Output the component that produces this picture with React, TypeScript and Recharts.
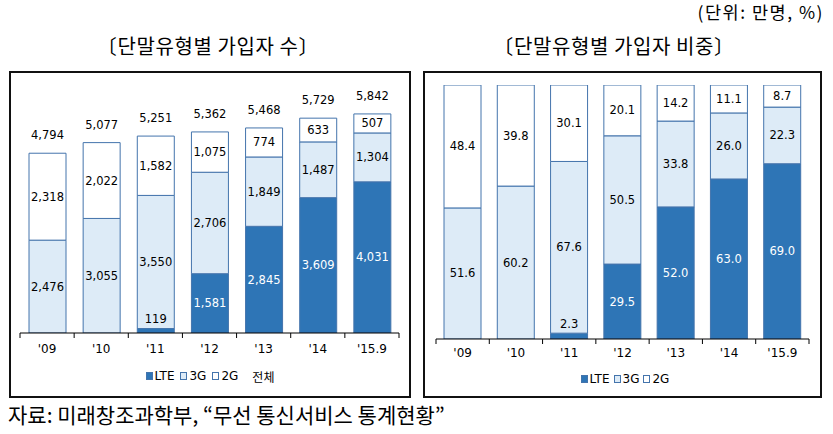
import React from "react";
import { BarChart, Bar, XAxis, YAxis, LabelList } from "recharts";

const categories = ["'09", "'10", "'11", "'12", "'13", "'14", "'15.9"];
const lteCount = [0, 0, 119, 1581, 2845, 3609, 4031];
const g3Count = [2476, 3055, 3550, 2706, 1849, 1487, 1304];
const g2Count = [2318, 2022, 1582, 1075, 774, 633, 507];
const totalCount = [4794, 5077, 5251, 5362, 5468, 5729, 5842];
const ltePct = [0, 0, 2.3, 29.5, 52.0, 63.0, 69.0];
const g3Pct = [51.6, 60.2, 67.6, 50.5, 33.8, 26.0, 22.3];
const g2Pct = [48.4, 39.8, 30.1, 20.1, 14.2, 11.1, 8.7];

const countData = categories.map((c, i) => ({
  name: c,
  lte: lteCount[i],
  g3: g3Count[i],
  g2: g2Count[i],
  total: totalCount[i],
}));
const pctData = categories.map((c, i) => ({
  name: c,
  lte: ltePct[i],
  g3: g3Pct[i],
  g2: g2Pct[i],
}));

const LTE_COLOR = "#2E75B6";
const G3_COLOR = "#DDEBF7";
const G2_COLOR = "#FFFFFF";
const EDGE = "#4474AC";
const NUM_FONT = "'DejaVu Sans', Verdana, sans-serif";
const KR_FONT = "'Noto Sans CJK KR', sans-serif";

const W = 833;
const H = 434;

// left chart plot geometry (page coords)
const L_LEFT = 20;
const L_RIGHT = 399;
const L_BASE = 333;
const L_TOP = 108;
// right chart plot geometry
const R_LEFT = 436;
const R_RIGHT = 809;
const R_BASE = 339;
const R_TOP = 85;

const fmtCount = (v: number) => v.toLocaleString("en-US");
const fmtPct = (v: number) => v.toFixed(1);

function makeTick(step: number, base: number, labelY: number) {
  return (props: any) => {
    const { x, payload, index } = props;
    const last = index === categories.length - 1;
    return (
      <g>
        <line x1={x - step / 2} x2={x - step / 2} y1={base} y2={base + 5} stroke="#000" strokeWidth={1} />
        {last && <line x1={x + step / 2} x2={x + step / 2} y1={base} y2={base + 5} stroke="#000" strokeWidth={1} />}
        <text x={x} y={labelY} textAnchor="middle" dominantBaseline="central" fontFamily={NUM_FONT} fontSize={12} fill="#000">
          {payload.value}
        </text>
      </g>
    );
  };
}

function makeSegLabel(fmt: (v: number) => string, color: string, smallAbove: boolean) {
  return (props: any) => {
    const { x, y, width, height, value } = props;
    if (!value) return null;
    const cx = x + width / 2;
    if (smallAbove && height < 16) {
      return (
        <text x={cx} y={y - 9.5} textAnchor="middle" dominantBaseline="central" fontFamily={NUM_FONT} fontSize={11.5} fill="#000">
          {fmt(value)}
        </text>
      );
    }
    return (
      <text x={cx} y={y + height / 2} textAnchor="middle" dominantBaseline="central" fontFamily={NUM_FONT} fontSize={11.5} fill={color}>
        {fmt(value)}
      </text>
    );
  };
}

const TotalLabel = (props: any) => {
  const { x, y, width, value } = props;
  return (
    <text x={x + width / 2} y={y - 18} textAnchor="middle" dominantBaseline="central" fontFamily={NUM_FONT} fontSize={11.5} fill="#000">
      {fmtCount(value)}
    </text>
  );
};

const Swatch = ({ fill }: { fill: string }) => (
  <span
    style={{
      display: "inline-block",
      width: 5,
      height: 6,
      background: fill,
      border: `1px solid ${EDGE}`,
      marginRight: 2,
    }}
  />
);

const LegendRow = ({ withTotal, gap, left, top, width }: { withTotal: boolean; gap: number; left: number; top: number; width: number }) => (
  <div
    style={{
      position: "absolute",
      left,
      top,
      width,
      height: 16,
      display: "flex",
      alignItems: "center",
      justifyContent: "center",
      fontFamily: NUM_FONT,
      fontSize: 12,
      color: "#000",
      whiteSpace: "nowrap",
    }}
  >
    <span style={{ display: "inline-flex", alignItems: "center", marginRight: gap }}>
      <Swatch fill={LTE_COLOR} />LTE
    </span>
    <span style={{ display: "inline-flex", alignItems: "center", marginRight: gap }}>
      <Swatch fill={G3_COLOR} />3G
    </span>
    <span style={{ display: "inline-flex", alignItems: "center", marginRight: withTotal ? 14 : 0 }}>
      <Swatch fill={G2_COLOR} />2G
    </span>
    {withTotal && <span style={{ fontFamily: KR_FONT, fontSize: 12 }}>전체</span>}
  </div>
);

const boxStyle = (left: number, top: number, width: number, height: number): React.CSSProperties => ({
  position: "absolute",
  left,
  top,
  width,
  height,
  border: "2px solid #111",
  boxSizing: "border-box",
});

const textStyle = (extra: React.CSSProperties): React.CSSProperties => ({
  position: "absolute",
  fontFamily: KR_FONT,
  color: "#000",
  whiteSpace: "nowrap",
  lineHeight: 1,
  ...extra,
});

export default function App() {
  const lStep = (L_RIGHT - L_LEFT) / categories.length;
  const rStep = (R_RIGHT - R_LEFT) / categories.length;
  return (
    <div style={{ position: "absolute", left: 0, top: 0, width: W, height: H, background: "#fff", overflow: "hidden" }}>
      <div style={textStyle({ right: 9, top: 3, fontSize: 17.5, letterSpacing: 1.5 })}>(단위: 만명, %)</div>
      <div style={textStyle({ left: 0, width: 416, top: 36, fontSize: 20, letterSpacing: 0.6, textAlign: "center" })}>〔단말유형별 가입자 수〕</div>
      <div style={textStyle({ left: 416, width: 396, top: 36, fontSize: 20, letterSpacing: 0.6, textAlign: "center" })}>〔단말유형별 가입자 비중〕</div>
      <div style={boxStyle(9, 71, 402, 327)} />
      <div style={boxStyle(423, 71, 399, 327)} />
      <div style={textStyle({ left: 8, top: 404, fontSize: 21 })}>자료: 미래창조과학부, “무선 통신서비스 통계현황”</div>

      <div style={{ position: "absolute", left: 0, top: 0 }}>
        <BarChart
          width={W}
          height={H}
          data={countData}
          margin={{ top: L_TOP, bottom: H - L_BASE - 30, left: L_LEFT, right: W - L_RIGHT }}
        >
          <XAxis
            dataKey="name"
            height={30}
            axisLine={{ stroke: "#000", strokeWidth: 1 }}
            tickLine={false}
            tick={makeTick(lStep, L_BASE, 349)}
            interval={0}
          />
          <YAxis hide domain={[0, 6000]} allowDataOverflow />
          <Bar dataKey="lte" stackId="a" fill={LTE_COLOR} stroke={EDGE} strokeWidth={1} barSize={37} isAnimationActive={false}>
            <LabelList dataKey="lte" content={makeSegLabel(fmtCount, "#fff", true)} />
          </Bar>
          <Bar dataKey="g3" stackId="a" fill={G3_COLOR} stroke={EDGE} strokeWidth={1} barSize={37} isAnimationActive={false}>
            <LabelList dataKey="g3" content={makeSegLabel(fmtCount, "#000", false)} />
          </Bar>
          <Bar dataKey="g2" stackId="a" fill={G2_COLOR} stroke={EDGE} strokeWidth={1} barSize={37} isAnimationActive={false}>
            <LabelList dataKey="g2" content={makeSegLabel(fmtCount, "#000", false)} />
            <LabelList dataKey="total" content={TotalLabel} />
          </Bar>
        </BarChart>
      </div>

      <div style={{ position: "absolute", left: 0, top: 0 }}>
        <BarChart
          width={W}
          height={H}
          data={pctData}
          margin={{ top: R_TOP, bottom: H - R_BASE - 30, left: R_LEFT, right: W - R_RIGHT }}
        >
          <XAxis
            dataKey="name"
            height={30}
            axisLine={{ stroke: "#000", strokeWidth: 1 }}
            tickLine={false}
            tick={makeTick(rStep, R_BASE, 353)}
            interval={0}
          />
          <YAxis hide domain={[0, 100]} allowDataOverflow />
          <Bar dataKey="lte" stackId="a" fill={LTE_COLOR} stroke={EDGE} strokeWidth={1} barSize={37} isAnimationActive={false}>
            <LabelList dataKey="lte" content={makeSegLabel(fmtPct, "#fff", true)} />
          </Bar>
          <Bar dataKey="g3" stackId="a" fill={G3_COLOR} stroke={EDGE} strokeWidth={1} barSize={37} isAnimationActive={false}>
            <LabelList dataKey="g3" content={makeSegLabel(fmtPct, "#000", false)} />
          </Bar>
          <Bar dataKey="g2" stackId="a" fill={G2_COLOR} stroke={EDGE} strokeWidth={1} barSize={37} isAnimationActive={false}>
            <LabelList dataKey="g2" content={makeSegLabel(fmtPct, "#000", false)} />
          </Bar>
        </BarChart>
      </div>

      <LegendRow withTotal={true} gap={6} left={110} top={368} width={200} />
      <LegendRow withTotal={false} gap={4} left={525} top={371} width={200} />
    </div>
  );
}
